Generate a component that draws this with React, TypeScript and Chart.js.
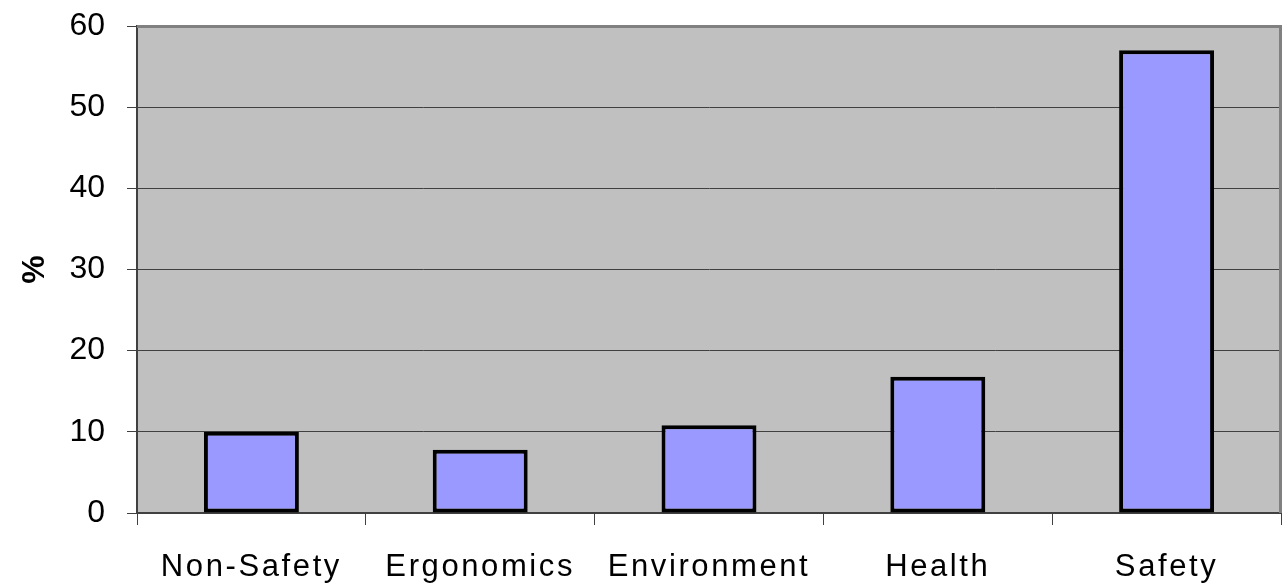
import React, { useEffect, useRef } from "react";
import { Chart, registerables } from "chart.js";

Chart.register(...registerables);

const categories = ["Non-Safety", "Ergonomics", "Environment", "Health", "Safety"];
const values = [10, 7.8, 10.8, 16.8, 57];
const yTicks = [0, 10, 20, 30, 40, 50, 60];
const yTitle = "%";

const plotBg = {
  id: "plotBg",
  beforeDraw(chart: any) {
    const { ctx, chartArea } = chart;
    ctx.save();
    ctx.fillStyle = "#C0C0C0";
    ctx.fillRect(chartArea.left, chartArea.top, chartArea.right - chartArea.left, chartArea.bottom - chartArea.top);
    ctx.restore();
  },
  afterDatasetsDraw(chart: any) {
    const { ctx, chartArea } = chart;
    ctx.save();
    ctx.strokeStyle = "#808080";
    ctx.lineWidth = 3;
    ctx.beginPath();
    ctx.moveTo(chartArea.left, chartArea.top + 0.5);
    ctx.lineTo(chartArea.right - 0.5, chartArea.top + 0.5);
    ctx.lineTo(chartArea.right - 0.5, chartArea.bottom);
    ctx.stroke();
    ctx.restore();
    // letter spacing for the x-axis labels drawn next (x tick layer is z=1)
    (ctx as any).letterSpacing = "2.6px";
  },
  afterDraw(chart: any) {
    (chart.ctx as any).letterSpacing = "0px";
  },
};

export default function App() {
  const ref = useRef<HTMLCanvasElement>(null);
  useEffect(() => {
    document.body.style.margin = "0";
    const chart = new Chart(ref.current!, {
      type: "bar",
      data: {
        labels: categories,
        datasets: [
          {
            data: values,
            backgroundColor: "#9999FF",
            borderColor: "#000000",
            borderWidth: 4,
            borderSkipped: false,
            barPercentage: 0.415,
            categoryPercentage: 1,
          },
        ],
      },
      options: {
        animation: false,
        responsive: false,
        maintainAspectRatio: false,
        layout: { padding: { top: 26, right: 4, left: 0, bottom: 0 } },
        plugins: { legend: { display: false }, tooltip: { enabled: false } },
        scales: {
          x: {
            offset: true,
            grid: {
              offset: true,
              drawOnChartArea: false,
              drawTicks: true,
              tickLength: 12,
              color: "#404040",
              lineWidth: 1,
            },
            border: { display: true, color: "#404040", width: 2 },
            ticks: {
              z: 1,
              color: "#000",
              font: { family: "Liberation Sans, Arial, sans-serif", size: 31 },
              padding: 24,
              maxRotation: 0,
              autoSkip: false,
            },
            afterFit: (s: any) => {
              s.height = 74;
              s.paddingLeft = 0;
              s.paddingRight = 0;
            },
          },
          y: {
            min: 0,
            max: 60,
            afterBuildTicks: (s: any) => {
              s.ticks = yTicks.map((v) => ({ value: v }));
            },
            grid: {
              color: "#404040",
              lineWidth: 1,
              drawTicks: true,
              tickLength: 10,
            },
            border: { display: true, color: "#404040", width: 2 },
            ticks: {
              color: "#000",
              font: { family: "Liberation Sans, Arial, sans-serif", size: 32 },
              padding: 22,
            },
            title: {
              display: true,
              text: yTitle,
              color: "#000",
              font: { family: "Liberation Sans, Arial, sans-serif", size: 32, weight: "bold" },
              padding: { top: 16, bottom: 0 },
            },
            afterFit: (s: any) => {
              s.width = 137;
              s.paddingTop = 0;
              s.paddingBottom = 0;
            },
          },
        },
      },
      plugins: [plotBg],
    });
    return () => chart.destroy();
  }, []);
  return (
    <div style={{ position: "relative", width: 1285, height: 587 }}>
      <canvas ref={ref} width={1285} height={587} style={{ display: "block" }} />
    </div>
  );
}
